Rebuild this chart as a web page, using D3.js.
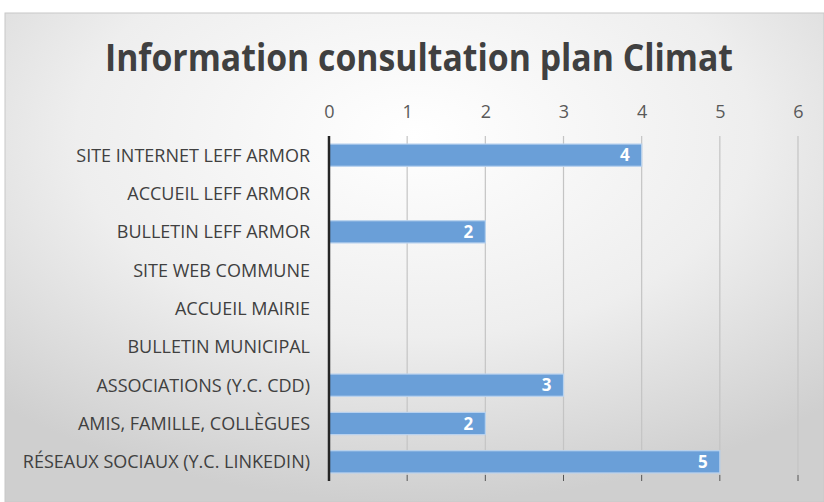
<!DOCTYPE html>
<html lang="fr">
<head>
<meta charset="utf-8">
<title>Information consultation plan Climat</title>
<script src="https://d3js.org/d3.v7.min.js"></script>
<style>
  body { margin: 0; background: #ffffff; }
  .title { font-family: 'Open Sans', sans-serif; font-weight: bold; fill: #404040; }
  .cat { font-family: 'Open Sans', sans-serif; fill: #404040; }
  .tick text { font-family: 'Open Sans', sans-serif; fill: #595959; }
</style>
</head>
<body>
<div id="chart"></div>
<script>

// data
var categories = [
  "SITE INTERNET LEFF ARMOR",
  "ACCUEIL LEFF ARMOR",
  "BULLETIN LEFF ARMOR",
  "SITE WEB COMMUNE",
  "ACCUEIL MAIRIE",
  "BULLETIN MUNICIPAL",
  "ASSOCIATIONS (Y.C. CDD)",
  "AMIS, FAMILLE, COLLÈGUES",
  "RÉSEAUX SOCIAUX (Y.C. LINKEDIN)"
];
var values = [4, 0, 2, 0, 0, 0, 3, 2, 5];
var xTicks = [0, 1, 2, 3, 4, 5, 6];

var W = 824, H = 502;

var svg = d3.select("#chart")
  .append("svg")
    .attr("width", W)
    .attr("height", H);

// soft grey radial background
var grad = svg.append("defs").append("radialGradient")
  .attr("id", "bg")
  .attr("cx", "50%").attr("cy", "25%").attr("r", "75%");
grad.append("stop").attr("offset", "0%").attr("stop-color", "#ffffff");
grad.append("stop").attr("offset", "55%").attr("stop-color", "#eeeeee");
grad.append("stop").attr("offset", "100%").attr("stop-color", "#cfcfcf");

svg.append("rect")
  .attr("x", 5).attr("y", 13)
  .attr("width", W - 5).attr("height", H - 13)
  .attr("fill", "url(#bg)")
  .attr("stroke", "#c8c8c8");

svg.append("text")
  .attr("class", "title")
  .attr("x", 419).attr("y", 71)
  .attr("text-anchor", "middle")
  .attr("textLength", 628)
  .attr("lengthAdjust", "spacingAndGlyphs")
  .style("font-size", "38px")
  .text("Information consultation plan Climat");

var plotTop = 136, plotBottom = 481;

var x = d3.scaleLinear()
  .domain([0, 6])
  .range([329, 798]);

var y = d3.scaleBand()
  .domain(categories)
  .range([plotTop, plotBottom])
  .paddingInner(0.42)
  .paddingOuter(0.21);

// vertical gridlines
svg.append("g")
  .selectAll("line")
  .data(xTicks.slice(1))
  .enter()
  .append("line")
    .attr("x1", function(d) { return x(d); })
    .attr("x2", function(d) { return x(d); })
    .attr("y1", plotTop)
    .attr("y2", plotBottom - 6)
    .attr("stroke", "#c4c4c4")
    .attr("stroke-width", 1.2);

// small tick marks below the plot
svg.append("g")
  .selectAll("line")
  .data(xTicks)
  .enter()
  .append("line")
    .attr("x1", function(d) { return x(d); })
    .attr("x2", function(d) { return x(d); })
    .attr("y1", plotBottom - 6)
    .attr("y2", plotBottom)
    .attr("stroke", "#555")
    .attr("stroke-width", 1);

// top axis, labels only
var xAxis = svg.append("g")
  .attr("transform", "translate(0," + 118 + ")")
  .call(d3.axisTop(x).tickValues(xTicks).tickFormat(d3.format("d")).tickSize(0).tickPadding(0));
xAxis.select(".domain").remove();
xAxis.selectAll(".tick text").style("font-size", "18px");

// bars + value labels
var rows = categories.map(function(c, i) { return {cat: c, value: values[i]}; })
  .filter(function(d) { return d.value > 0; });

svg.append("g")
  .selectAll("rect")
  .data(rows)
  .enter()
  .append("rect")
    .attr("x", x(0))
    .attr("y", function(d) { return y(d.cat); })
    .attr("height", y.bandwidth())
    .attr("width", function(d) { return x(d.value) - x(0); })
    .attr("fill", "#6a9fd8")
    .attr("stroke", "#b9d2ee")
    .attr("stroke-width", 1.2);

svg.append("g")
  .selectAll("text")
  .data(rows)
  .enter()
  .append("text")
    .attr("x", function(d) { return x(d.value) - 12; })
    .attr("y", function(d) { return y(d.cat) + y.bandwidth() / 2; })
    .attr("dy", "0.36em")
    .attr("text-anchor", "end")
    .style("font-family", "'Open Sans', sans-serif")
    .style("font-weight", "bold")
    .style("font-size", "17px")
    .attr("fill", "#ffffff")
    .text(function(d) { return d.value; });

// axis line on the left of the bars
svg.append("line")
  .attr("x1", x(0)).attr("x2", x(0))
  .attr("y1", plotTop).attr("y2", plotBottom)
  .attr("stroke", "#262626")
  .attr("stroke-width", 2.5);

// category labels
svg.append("g")
  .selectAll("text")
  .data(categories)
  .enter()
  .append("text")
    .attr("class", "cat")
    .attr("x", 310)
    .attr("y", function(d) { return y(d) + y.bandwidth() / 2; })
    .attr("dy", "0.36em")
    .attr("text-anchor", "end")
    .style("font-size", "18px")
    .text(function(d) { return d; });

</script>
</body>
</html>
